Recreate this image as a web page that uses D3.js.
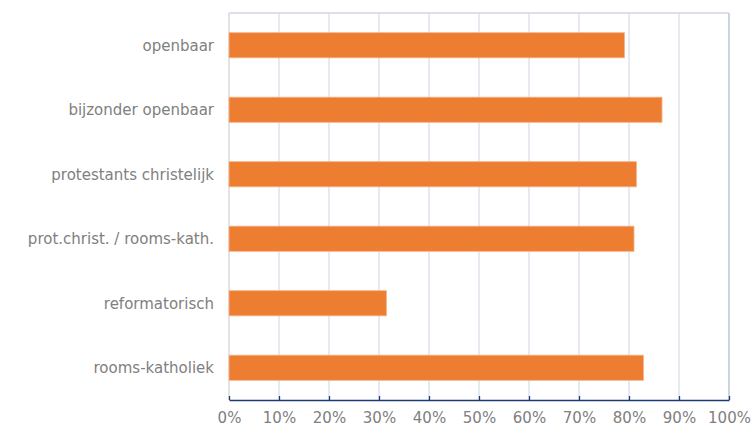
<!DOCTYPE html>
<html><head><meta charset="utf-8">
<script src="https://cdn.jsdelivr.net/npm/d3@7"></script>
<style>body{margin:0;background:#fff}svg{display:block}text{font-family:"DejaVu Sans",Verdana,sans-serif}</style>
</head><body><svg id="c" width="751" height="427"></svg>
<script>
const categories = ["openbaar","bijzonder openbaar","protestants christelijk","prot.christ. / rooms-kath.","reformatorisch","rooms-katholiek"];
const values = [79.1, 86.6, 81.5, 81.0, 31.5, 82.9];
const tickValues = [0,10,20,30,40,50,60,70,80,90,100];

const svg = d3.select("#c");
const m = {left:229, right:22, top:13, bottom:27};
const W = 751, H = 427;
const x = d3.scaleLinear().domain([0,100]).range([m.left, W-m.right]);
const y = d3.scaleBand().domain(categories).range([m.top, H-m.bottom]).paddingInner(0.61).paddingOuter(0.305);

// gridlines
svg.append("g").selectAll("line").data(tickValues.slice(1)).join("line")
  .attr("x1",d=>x(d)).attr("x2",d=>x(d)).attr("y1",m.top).attr("y2",H-m.bottom)
  .attr("stroke","#D9DDE8").attr("stroke-width",1.3);
// top border
svg.append("line").attr("x1",m.left).attr("x2",x(100)).attr("y1",m.top).attr("y2",m.top)
  .attr("stroke","#D0D6E4").attr("stroke-width",1.3);
svg.append("line").attr("x1",x(100)).attr("x2",x(100)).attr("y1",m.top).attr("y2",H-m.bottom)
  .attr("stroke","#C5CCDD").attr("stroke-width",1.5);
// left axis line
svg.append("line").attr("x1",m.left).attr("x2",m.left).attr("y1",m.top).attr("y2",H-m.bottom)
  .attr("stroke","#D0D0D8").attr("stroke-width",1.2);

// bars
svg.append("g").selectAll("rect").data(values).join("rect")
  .attr("x",x(0)).attr("y",(d,i)=>y(categories[i]))
  .attr("width",d=>x(d)-x(0)).attr("height",y.bandwidth())
  .attr("fill","#ED7D31").attr("stroke","#F5B58A").attr("stroke-width",0.8);

// x axis
const xa = svg.append("g").attr("transform",`translate(0,${H-m.bottom})`)
  .call(d3.axisBottom(x).tickValues(tickValues).tickFormat(d=>d+"%").tickSize(-4).tickSizeOuter(0).tickPadding(12));
xa.select(".domain").attr("stroke","#1F3A78").attr("stroke-width",1.5);
xa.selectAll(".tick line").attr("stroke","#1F3A78").attr("stroke-width",1.3);
xa.selectAll("text").attr("fill","#808080").attr("font-size","15px").attr("font-family","DejaVu Sans");

// y labels
svg.append("g").selectAll("text").data(categories).join("text")
  .attr("x",m.left-15).attr("y",d=>y(d)+y.bandwidth()/2).attr("dy","0.35em")
  .attr("text-anchor","end").attr("fill","#808080").attr("font-size","15px").text(d=>d);
</script></body></html>
